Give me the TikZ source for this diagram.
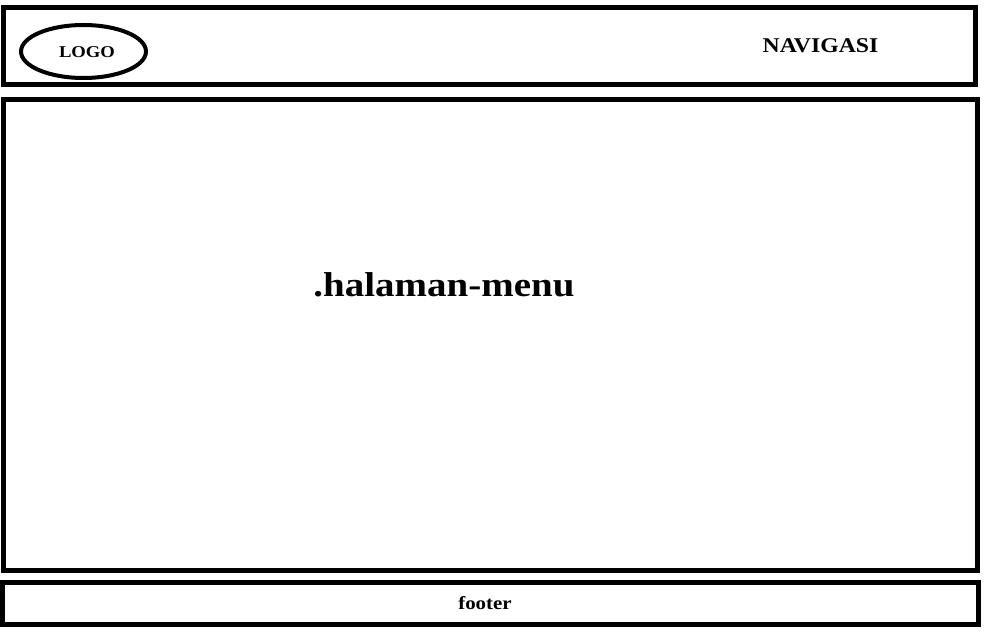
\documentclass[tikz,border=0pt]{standalone}
\usepackage{fontspec}
\setmainfont[FakeStretch=1.13]{Liberation Serif}
\usetikzlibrary{shapes.geometric}
\begin{document}
\begin{tikzpicture}[x=1pt,y=-1pt,
  panel/.style={draw=black,line width=5pt,fill=white},
  lbl/.style={font=\bfseries,text=black,inner sep=0pt}]
\useasboundingbox (0,0) rectangle (986,639);
\fill[white] (0,0) rectangle (986,639);
\draw[panel] (3.5,7.5) rectangle (975,85);
\node[draw=black,line width=4pt,ellipse,minimum width=125pt,minimum height=53pt,inner sep=0pt] (logoshape) at (83.5,51.5) {};
\node[lbl,font=\bfseries\fontsize{16.5}{20}\selectfont] (logo) at (87,52) {LOGO};
\node[lbl,font=\bfseries\fontsize{21}{24}\selectfont] (nav) at (820.5,46) {NAVIGASI};
\draw[panel] (3,99.5) rectangle (977,570.5);
\node[lbl,font=\bfseries\fontsize{34.5}{40}\selectfont] (menu) at (444,285) {.halaman-menu};
\draw[panel] (2.5,582.5) rectangle (978.5,624.5);
\node[lbl,font=\bfseries\fontsize{18.5}{22}\selectfont] (footer) at (485,603.5) {footer};
\end{tikzpicture}
\end{document}
